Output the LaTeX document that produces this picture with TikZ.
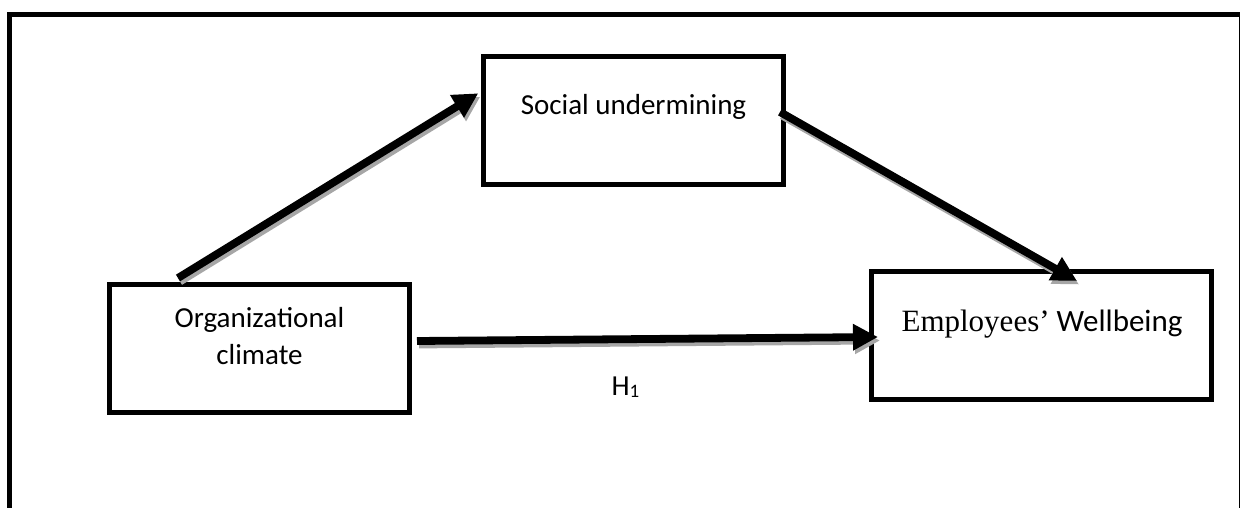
\documentclass[tikz,border=0pt]{standalone}
\usepackage{fontspec}
\setmainfont{Carlito}
\newfontfamily\tnr{Liberation Serif}
\usetikzlibrary{arrows.meta,calc}
\begin{document}
\begin{tikzpicture}[x=1pt,y=-1pt,
  box/.style={draw=black, line width=5pt, inner sep=0pt, outer sep=0pt},
  lbl/.style={font=\fontsize{29}{37}\selectfont, align=center, inner sep=0pt},
  arr/.style={line width=7.8pt, -{Triangle[length=25pt,width=25pt]}},
  shd/.style={arr, draw=black!35, fill=black!35, transform canvas={xshift=2pt,yshift=-3.5pt}}]
\useasboundingbox (0,0) rectangle (1240,507);
% outer frame (open at the bottom)
\draw[line width=5pt] (9.5,520) -- (9.5,14.5) -- (1241,14.5) -- (1241,520);
% boxes
\node[box, minimum width=300pt, minimum height=128pt] (org) at (259.5,348.5) {};
\node[box, minimum width=300pt, minimum height=128.5pt] (soc) at (633,120.25) {};
\node[box, minimum width=340pt, minimum height=127.5pt] (emp) at (1041.5,335.25) {};
% texts
\node[lbl, anchor=center] (orgt) at (259.5,336.5) {Organizational\\climate};
\node[lbl, anchor=base] (soct) at (633.5,114) {Social undermining};
\node[lbl, anchor=base, font=\fontsize{31}{37}\selectfont] (empt) at (1042,331) {{\tnr Employees’} Wellbeing};
\node[lbl, anchor=base] (h1) at (625.5,395) {H\raisebox{-2pt}{\fontsize{19}{19}\selectfont 1}};
% shadows of the arrows
\draw[shd] ($(org.north west)+(68.5,-6.5)$) -- ($(soc.north west)+(-4.7,37.3)$);
\draw[shd] ($(soc.north east)+(-3,56)$) -- ($(emp.north west)+(205.5,9.5)$);
\draw[shd] ($(org.east)+(7.5,-7.5)$) -- ($(emp.west)+(6.5,1.75)$);
% arrows
\draw[arr] ($(org.north west)+(68.5,-6.5)$) -- ($(soc.north west)+(-4.7,37.3)$);
\draw[arr] ($(soc.north east)+(-3,56)$) -- ($(emp.north west)+(205.5,9.5)$);
\draw[arr] ($(org.east)+(7.5,-7.5)$) -- ($(emp.west)+(6.5,1.75)$);
\end{tikzpicture}
\end{document}
